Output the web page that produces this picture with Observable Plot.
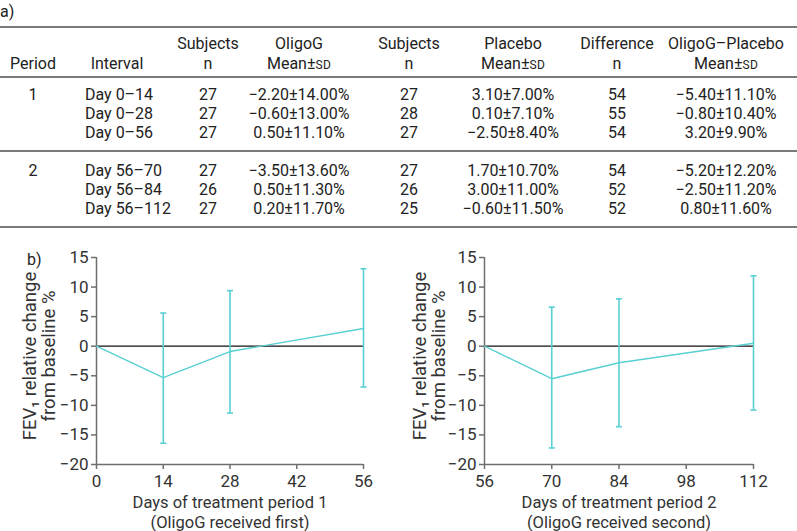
<!DOCTYPE html>
<html>
<head>
<meta charset="utf-8">
<script src="https://cdn.jsdelivr.net/npm/d3@7"></script>
<script src="https://cdn.jsdelivr.net/npm/@observablehq/plot@0.6"></script>
<style>
  html, body { margin: 0; padding: 0; background: #fff; }
  #root { position: relative; width: 797px; height: 531px; font-family: Roboto, "DejaVu Sans", sans-serif; color: #222; font-size: 16px; overflow: hidden; }
  .t { position: absolute; white-space: nowrap; line-height: 20px; height: 20px; }
  .c { transform: translateX(-50%); }
  .rule { position: absolute; left: 0; width: 797px; height: 1.5px; background: #7a7a7a; }
  .sc { font-size: 12px; letter-spacing: 0.3px; }
  .chart { position: absolute; top: 245px; }
</style>
</head>
<body>
<div id="root"></div>
<script>
// ---- Table data ----
const periods = ["1", "2"];
const intervals = ["Day 0–14", "Day 0–28", "Day 0–56", "Day 56–70", "Day 56–84", "Day 56–112"];
const oligoN = [27, 27, 27, 27, 26, 27];
const oligoMean = [-2.2, -0.6, 0.5, -3.5, 0.5, 0.2];
const oligoSD = [14.0, 13.0, 11.1, 13.6, 11.3, 11.7];
const placeboN = [27, 28, 27, 27, 26, 25];
const placeboMean = [3.1, 0.1, -2.5, 1.7, 3.0, -0.6];
const placeboSD = [7.0, 7.1, 8.4, 10.7, 11.0, 11.5];
const diffN = [54, 55, 54, 54, 52, 52];
const diffMean = [-5.4, -0.8, 3.2, -5.2, -2.5, 0.8];
const diffSD = [11.1, 10.4, 9.9, 12.2, 11.2, 11.6];

// ---- Chart data ----
const p1Days = [0, 14, 28, 56];
const p1Mean = [0, -5.3, -0.9, 3.0];
const p1Low = [null, -16.4, -11.3, -6.9];
const p1High = [null, 5.6, 9.4, 13.1];
const p2Days = [56, 70, 84, 112];
const p2Mean = [0, -5.5, -2.8, 0.5];
const p2Low = [null, -17.2, -13.6, -10.8];
const p2High = [null, 6.6, 8.0, 11.9];
const p1Ticks = [0, 14, 28, 42, 56];
const p2Ticks = [56, 70, 84, 98, 112];
const yTicks = [-20, -15, -10, -5, 0, 5, 10, 15];
const p1XLabel = "Days of treatment period 1\n(OligoG received first)";
const p2XLabel = "Days of treatment period 2\n(OligoG received second)";
const yLabel = "FEV\u2081 relative change\nfrom baseline %";

const root = document.getElementById("root");
function addText(html, x, yc, center, extra) {
  const d = document.createElement("div");
  d.className = "t" + (center ? " c" : "");
  d.style.left = x + "px";
  d.style.top = (yc - 10) + "px";
  if (extra) Object.assign(d.style, extra);
  d.innerHTML = html;
  root.appendChild(d);
}
function addRule(y) {
  const d = document.createElement("div");
  d.className = "rule";
  d.style.top = (y - 0.75) + "px";
  root.appendChild(d);
}
const fmt = v => (v < 0 ? "−" : "") + Math.abs(v).toFixed(2);
const ms = (m, s) => `${fmt(m)}±${s.toFixed(2)}%`;
const SD = 'Mean±<span class="sc">SD</span>';

// layout constants
const colX = { period: 33, interval: 85, intervalHead: 117, n1: 208, m1: 299, n2: 409, m2: 513, nd: 617, md: 726 };
const rowY = [95, 114, 133, 171, 190, 209];

addText("a)", 0, 12, false);
addRule(27); addRule(77); addRule(151); addRule(227);
// header
addText("Subjects", colX.n1, 44, true);
addText("OligoG", colX.m1, 44, true);
addText("Subjects", colX.n2, 44, true);
addText("Placebo", colX.m2, 44, true);
addText("Difference", colX.nd, 44, true);
addText("OligoG–Placebo", colX.md, 44, true);
addText("Period", colX.period, 64, true);
addText("Interval", colX.intervalHead, 64, true);
addText("n", colX.n1, 64, true);
addText(SD, colX.m1, 64, true);
addText("n", colX.n2, 64, true);
addText(SD, colX.m2, 64, true);
addText("n", colX.nd, 64, true);
addText(SD, colX.md, 64, true);
addText(periods[0], colX.period, rowY[0], true);
addText(periods[1], colX.period, rowY[3], true);
intervals.forEach((iv, i) => {
  const y = rowY[i];
  addText(iv, colX.interval, y, false);
  addText(String(oligoN[i]), colX.n1, y, true);
  addText(ms(oligoMean[i], oligoSD[i]), colX.m1, y, true);
  addText(String(placeboN[i]), colX.n2, y, true);
  addText(ms(placeboMean[i], placeboSD[i]), colX.m2, y, true);
  addText(String(diffN[i]), colX.nd, y, true);
  addText(ms(diffMean[i], diffSD[i]), colX.md, y, true);
});
addText("b)", 27, 260, false);

const cyan = "#58d0d2";
const axisGray = "#6e6e6e";
const cap = { draw(ctx, size) { const r = Math.sqrt(size / Math.PI); ctx.moveTo(-r, 0); ctx.lineTo(r, 0); } };
const numFmt = d => (d < 0 ? "−" + (-d) : String(d));

function chart(days, mean, low, high, ticks, xLabel, width, ml, mr, ydx) {
  const pts = days.map((d, i) => ({ x: d, y: mean[i], lo: low[i], hi: high[i] }));
  const err = pts.filter(p => p.lo != null);
  const x0 = days[0], x1 = days[days.length - 1];
  return Plot.plot({
    width, height: 286,
    marginLeft: ml, marginRight: mr, marginTop: 12, marginBottom: 67,
    style: { fontFamily: "Roboto, sans-serif", fontSize: "16px", color: "#333", background: "transparent", overflow: "visible" },
    x: { domain: [x0, x1] },
    y: { domain: [-20, 15] },
    marks: [
      Plot.ruleY([0], { x1: x0, x2: x1, stroke: "#111", strokeWidth: 1.3 }),
      Plot.axisX({ ticks, tickSize: 5, tickPadding: 5, stroke: axisGray, strokeWidth: 1.5, fill: "#333", fontSize: 17, tickFormat: numFmt, label: null }),
      Plot.axisY({ ticks: yTicks, tickSize: 5, tickPadding: 3, stroke: axisGray, strokeWidth: 1.5, fill: "#333", fontSize: 17, tickFormat: numFmt, label: null }),
      Plot.ruleX([x0], { y1: -20, y2: 15, stroke: axisGray, strokeWidth: 1.5 }),
      Plot.ruleY([-20], { x1: x0, x2: x1, stroke: axisGray, strokeWidth: 1.5 }),
      Plot.line(pts, { x: "x", y: "y", stroke: cyan, strokeWidth: 1.4 }),
      Plot.ruleX(err, { x: "x", y1: "lo", y2: "hi", stroke: cyan, strokeWidth: 1.6 }),
      Plot.dot(err, { x: "x", y: "lo", symbol: cap, r: 3, fill: "none", stroke: cyan, strokeWidth: 1.6 }),
      Plot.dot(err, { x: "x", y: "hi", symbol: cap, r: 3, fill: "none", stroke: cyan, strokeWidth: 1.6 }),
      Plot.text([xLabel], { text: d => d, frameAnchor: "bottom", lineAnchor: "top", textAnchor: "middle", dy: 30, fontSize: 16.5, fill: "#333", lineHeight: 1.17 }),
      Plot.text([yLabel], { text: d => d, frameAnchor: "left", textAnchor: "middle", lineAnchor: "middle", rotate: -90, dx: ydx, dy: -5, fontSize: 18.5, fill: "#333", lineHeight: 1.0 })
    ]
  });
}

const c1 = chart(p1Days, p1Mean, p1Low, p1High, p1Ticks, p1XLabel, 400, 96, 37, -57);
const w1 = document.createElement("div"); w1.className = "chart"; w1.style.left = "0px"; w1.appendChild(c1); root.appendChild(w1);
const c2 = chart(p2Days, p2Mean, p2Low, p2High, p2Ticks, p2XLabel, 397, 84, 44, -55);
const w2 = document.createElement("div"); w2.className = "chart"; w2.style.left = "400px"; w2.appendChild(c2); root.appendChild(w2);
</script>
</body>
</html>
